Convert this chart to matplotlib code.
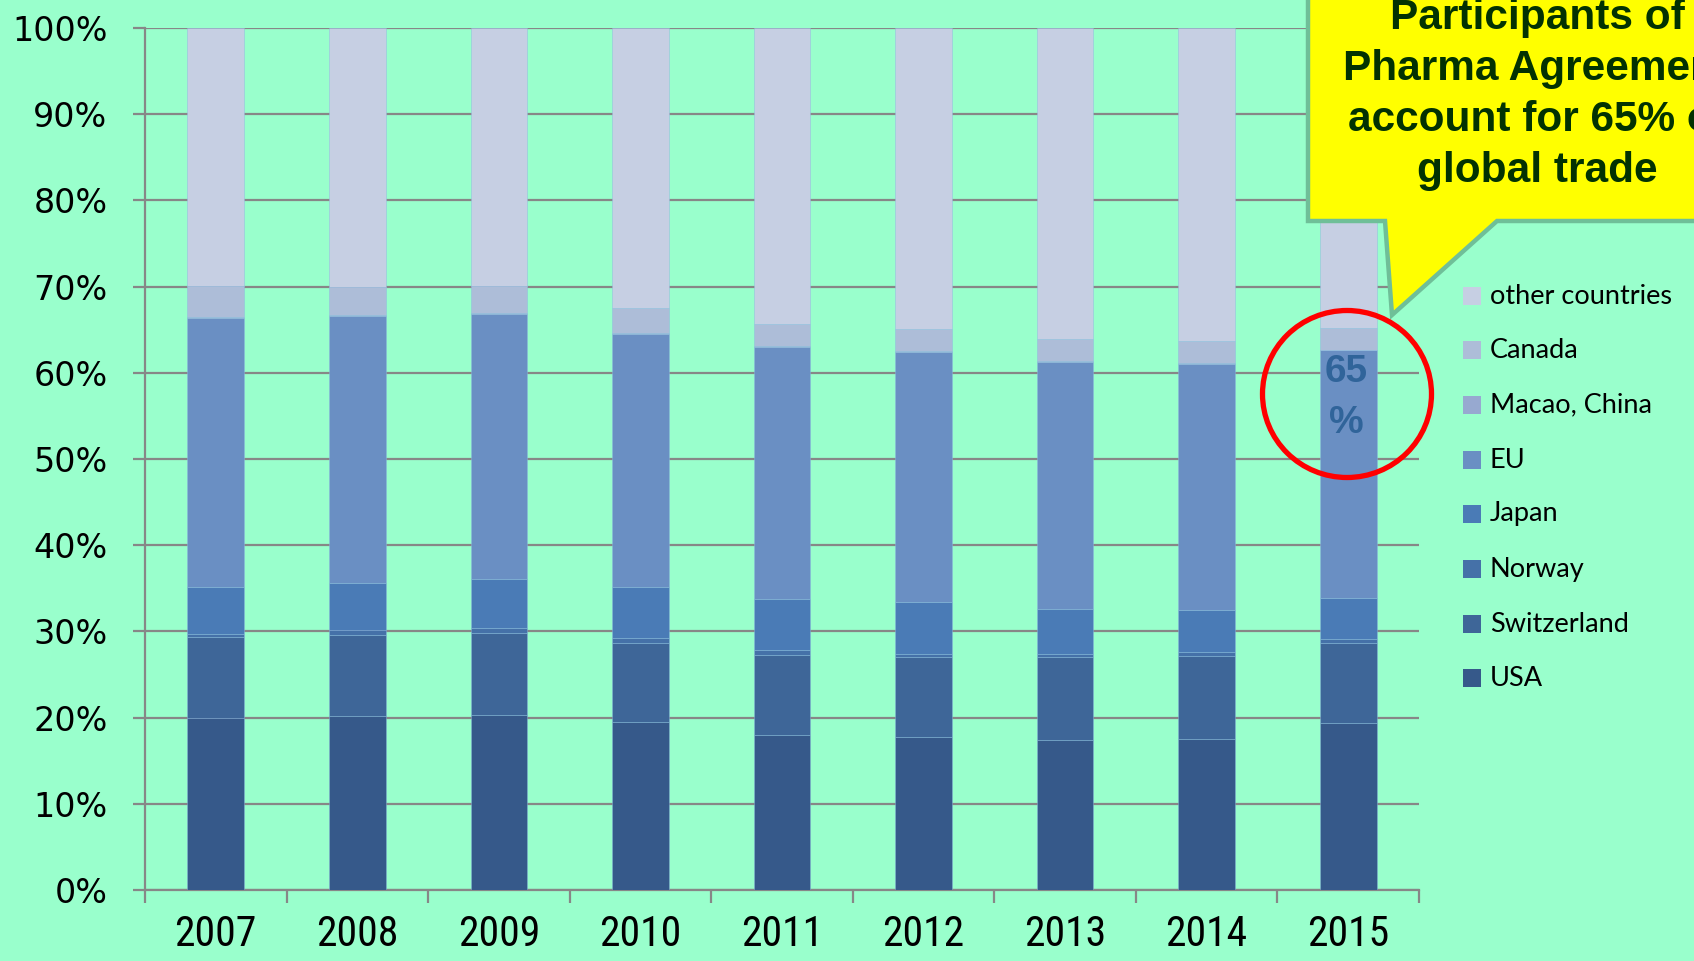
import matplotlib
matplotlib.use("Agg")
import matplotlib.pyplot as plt
from matplotlib import font_manager
from matplotlib.patches import Polygon, Ellipse, Rectangle
import numpy as np

years = ["2007", "2008", "2009", "2010", "2011", "2012", "2013", "2014", "2015"]
usa         = [19.9, 20.2, 20.25, 19.5, 18.0, 17.8, 17.4, 17.5, 19.4]
switzerland = [9.45, 9.4, 9.55, 9.2, 9.3, 9.2, 9.6, 9.7, 9.2]
norway      = [0.35, 0.6, 0.6, 0.5, 0.5, 0.4, 0.4, 0.4, 0.5]
japan       = [5.5, 5.46, 5.7, 6.0, 6.0, 6.0, 5.2, 4.9, 4.8]
eu          = [31.2, 30.94, 30.7, 29.3, 29.2, 29.05, 28.7, 28.5, 28.7]
macao       = [0.1, 0.1, 0.1, 0.1, 0.1, 0.1, 0.1, 0.1, 0.1]
canada      = [3.6, 3.3, 3.2, 2.9, 2.6, 2.55, 2.5, 2.6, 2.5]
other       = [29.9, 30.0, 29.9, 32.5, 34.3, 34.9, 36.1, 36.3, 34.8]

series_names = ["USA", "Switzerland", "Norway", "Japan", "EU", "Macao, China", "Canada", "other countries"]
series_vals = [usa, switzerland, norway, japan, eu, macao, canada, other]
series_colors = ["#36598a", "#3e6698", "#4571a8", "#4a7bb6", "#6a8fc3", "#97a9d0", "#adbdd8", "#c6cfe3"]

# pick a condensed font if available
available = {f.name for f in font_manager.fontManager.ttflist}
narrow = None
for cand in ["Liberation Sans Narrow", "DejaVu Sans Condensed", "Roboto Condensed", "Open Sans Condensed"]:
    if cand in available:
        narrow = cand
        break
if narrow is not None:
    year_font, year_size = narrow, 30
else:
    year_font, year_size = "Liberation Sans", 26

BG = "#99ffcc"
W, H = 1694, 961
fig = plt.figure(figsize=(W / 100, H / 100), dpi=100, facecolor=BG)
ax = fig.add_axes([145 / W, (H - 890) / H, (1419 - 145) / W, (890 - 28) / H])
ax.set_facecolor(BG)

x = np.arange(len(years))
bottom = np.zeros(len(years))
for name, vals, col in zip(series_names, series_vals, series_colors):
    v = np.array(vals, dtype=float)
    ax.bar(x, v, width=0.40, bottom=bottom, color=col, edgecolor=(0.55, 0.72, 0.88, 0.5),
           linewidth=0.6, zorder=3)
    bottom += v

ax.set_xlim(-0.5, len(years) - 0.5)
ax.set_ylim(0, 100)
ax.set_yticks(np.arange(0, 101, 10))
ax.set_yticklabels([f"{v}%" for v in range(0, 101, 10)], fontsize=24, family="DejaVu Sans")
ax.yaxis.grid(True, color="#878787", linewidth=1.6, zorder=0)
ax.set_axisbelow(True)
ax.tick_params(axis="y", length=9, width=1.6, color="#878787", pad=18, direction="out")

ax.set_xticks(np.arange(-0.5, len(years), 1.0))
ax.set_xticklabels([])
ax.set_xticks(x, minor=True)
ax.set_xticklabels(years, minor=True, fontsize=year_size, family=[year_font, "DejaVu Sans"])
ax.tick_params(axis="x", which="major", length=9, width=1.6, color="#878787", direction="out")
ax.tick_params(axis="x", which="minor", length=0, pad=17)

for s in ["top", "right"]:
    ax.spines[s].set_visible(False)
for s in ["left", "bottom"]:
    ax.spines[s].set_color("#878787")
    ax.spines[s].set_linewidth(1.6)

# overlay in pixel coordinates
ov = fig.add_axes([0, 0, 1, 1], facecolor="none")
ov.set_xlim(0, W)
ov.set_ylim(H, 0)
ov.axis("off")

callout = Polygon([(1308, -20), (1308, 221), (1385, 221), (1392, 315), (1497, 221),
                   (1720, 221), (1720, -20)], closed=True, facecolor="#ffff00",
                  edgecolor="#6fbf98", linewidth=3.2, zorder=5)
ov.add_patch(callout)
callout_lines = ["Participants of", "Pharma Agreement", "account for 65% of", "global trade"]
for line, yb in zip(callout_lines, [29, 80, 131, 182]):
    ov.text(1537, yb, line, ha="center", va="baseline", fontsize=30.5, fontweight="bold",
            family="Liberation Sans", color="#023202", zorder=6)

ov.add_patch(Ellipse((1347, 394), 169, 167, fill=False, edgecolor="#ff0000", linewidth=3.8, zorder=6))
ov.text(1346, 372, "65", ha="center", va="center", fontsize=28, fontweight="bold",
        family="Liberation Sans", color="#30649a", zorder=6)
ov.text(1346, 423, "%", ha="center", va="center", fontsize=28, fontweight="bold",
        family="Liberation Sans", color="#30649a", zorder=6)

# legend (top to bottom)
leg_y = [296, 350, 405, 460, 514, 569, 624, 678]
for (name, col), yy in zip(list(zip(series_names, series_colors))[::-1], leg_y):
    ov.add_patch(Rectangle((1463, yy - 9), 18, 18, facecolor=col, edgecolor="none", zorder=6))
    ov.text(1490, yy, name, ha="left", va="center", fontsize=19.5, family="Lato", color="#000000", zorder=6)

fig.savefig("out.png", dpi=100, facecolor=BG)
